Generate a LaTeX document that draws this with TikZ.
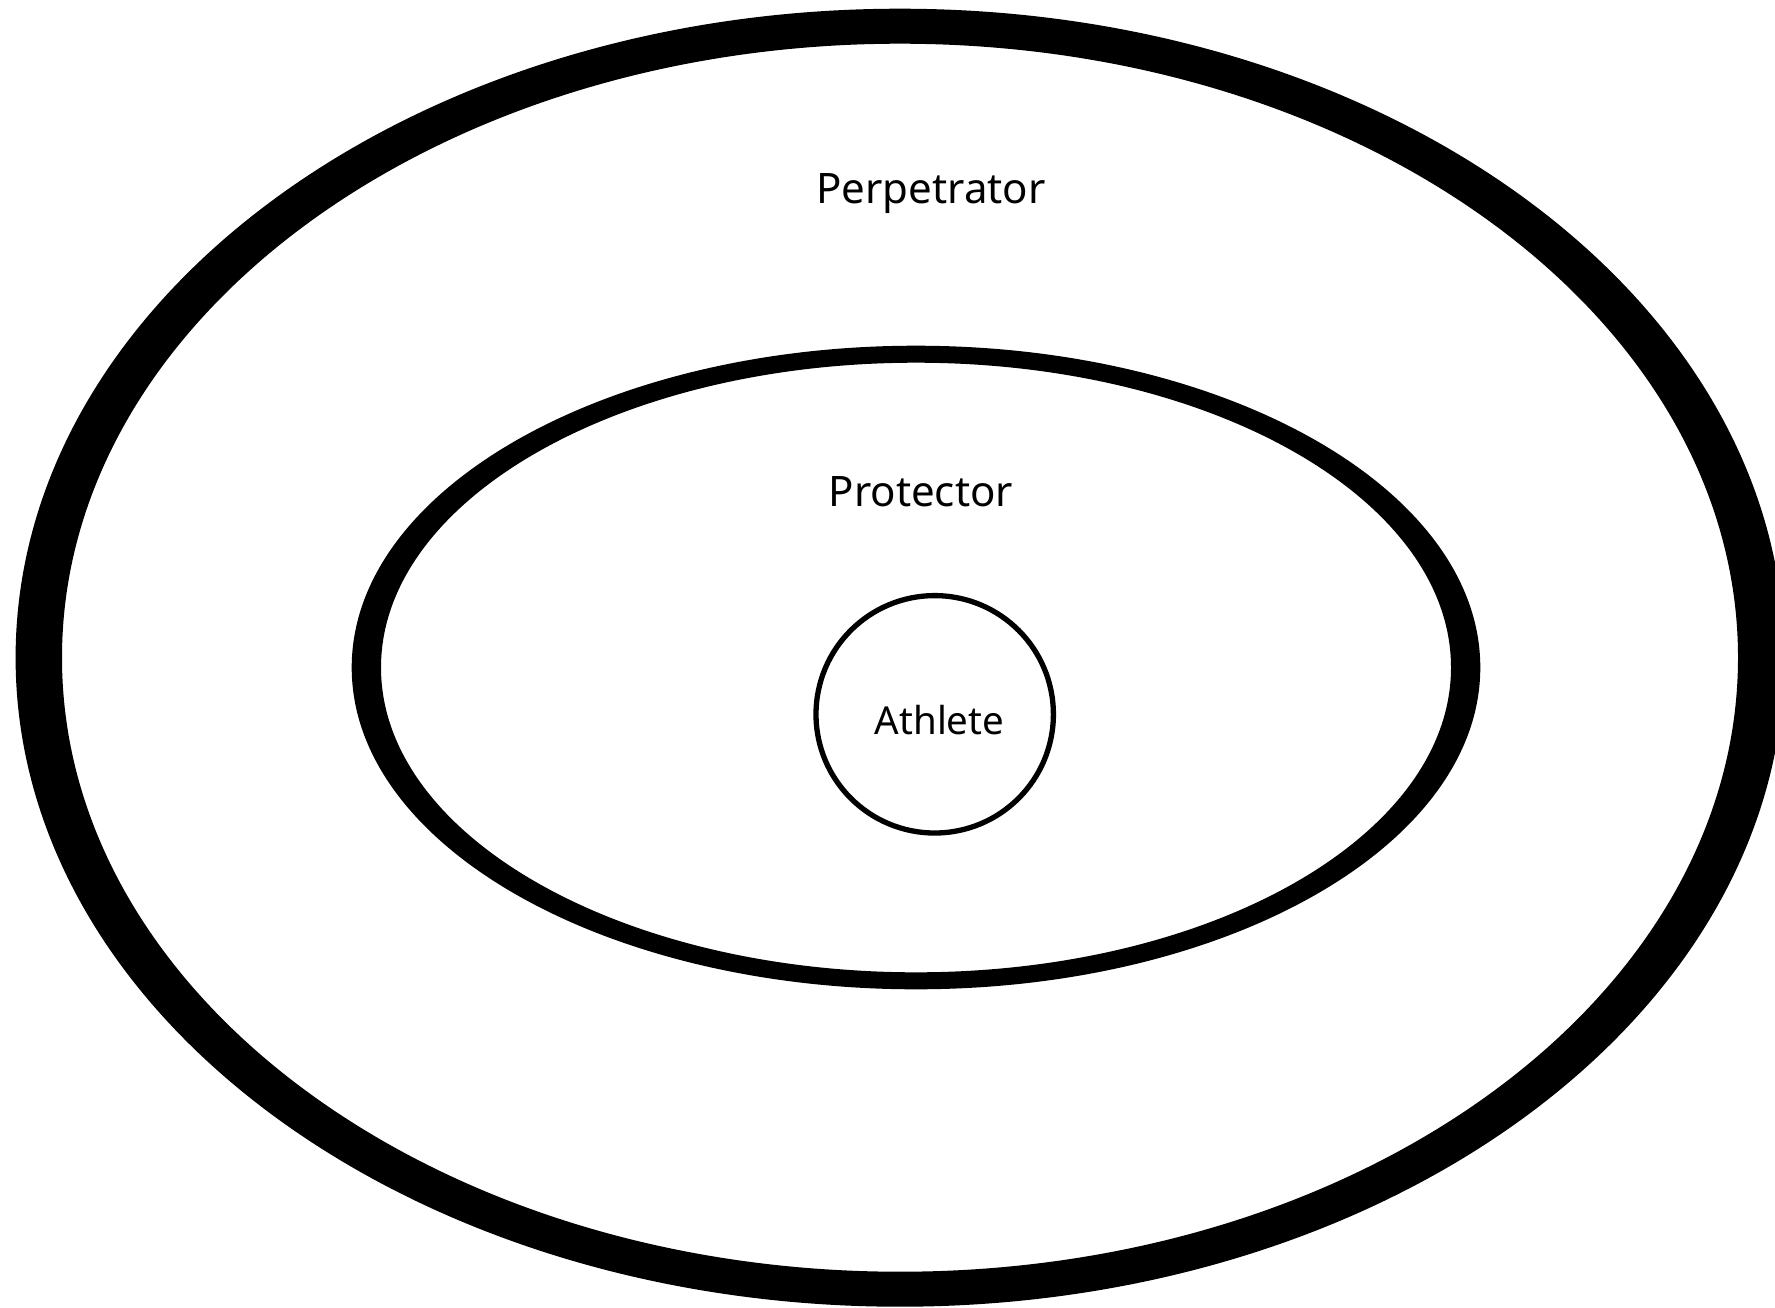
\documentclass[tikz,border=0pt]{standalone}
\usepackage{fontspec}
\setmainfont{Noto Sans}
\begin{document}
\begin{tikzpicture}[x=1pt,y=-1pt,
  ring/.style={fill=black,even odd rule},
  lbl/.style={anchor=base,inner sep=0pt,text=black}]
\useasboundingbox (0,0) rectangle (1775,1307);
\clip (0,0) rectangle (1775,1307);
\fill[white] (0,0) rectangle (1775,1307);
% outer ring (Perpetrator)
\fill[ring] (900,657.7) ellipse [x radius=884.4, y radius=649]
            (900,657.7) ellipse [x radius=838, y radius=614];
% middle ring (Protector)
\fill[ring] (916,667.5) ellipse [x radius=564.3, y radius=321.8]
            (916,667.5) ellipse [x radius=535, y radius=304.8];
% inner circle (Athlete)
\draw[line width=5.3pt] (934.7,714.3) circle [radius=118.7];
\node[lbl,font=\fontsize{42}{50}\selectfont] (perp) at (931,203.3) {Perpetrator};
\node[lbl,font=\fontsize{42}{50}\selectfont] (prot) at (920.8,506.7) {Protector};
\node[lbl,font=\fontsize{38.5}{46}\selectfont] (ath) at (939.5,734) {Athlete};
\end{tikzpicture}
\end{document}
